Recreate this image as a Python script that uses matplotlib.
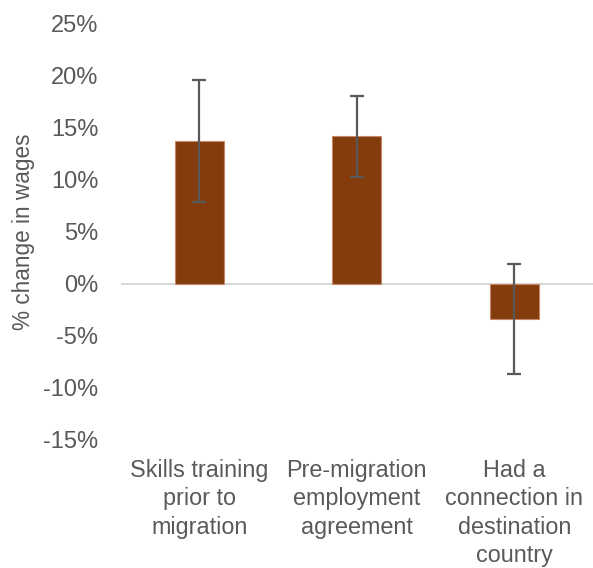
import matplotlib.pyplot as plt
import numpy as np

plt.rcParams['font.family'] = ['Liberation Sans', 'DejaVu Sans']

# data (percent)
categories = ["Skills training\nprior to\nmigration",
              "Pre-migration\nemployment\nagreement",
              "Had a\nconnection in\ndestination\ncountry"]
values = [13.7, 14.2, -3.4]
err_low = [7.9, 10.3, -8.7]
err_high = [19.6, 18.1, 1.85]
yticks = [-15, -10, -5, 0, 5, 10, 15, 20, 25]

grey = '#595959'

fig = plt.figure(figsize=(5.93, 5.68), dpi=100)
ax = fig.add_axes([0.2035, 0.226, 0.7965, 0.732])

x = np.arange(len(categories))
yerr = [np.array(values) - np.array(err_low), np.array(err_high) - np.array(values)]
ax.bar(x, values, width=0.31, color='#843C0C', edgecolor='#c4896a', linewidth=0.8, zorder=2)
ax.errorbar(x, values, yerr=yerr, fmt='none', ecolor=grey, elinewidth=1.6,
            capsize=5, capthick=1.6, zorder=3)
ax.axhline(0, color='#d9d9d9', linewidth=1.5, zorder=1)

ax.set_xlim(-0.5, 2.5)
ax.set_ylim(-15, 25)
ax.set_yticks(yticks)
ax.set_yticklabels([f"{t}%" for t in yticks], fontsize=17)
ax.set_xticks(x)
ax.set_xticklabels(categories, linespacing=1.3, fontsize=16.8)

for s in ax.spines.values():
    s.set_visible(False)
ax.tick_params(axis='both', length=0, colors=grey)
ax.tick_params(axis='y', pad=16)
ax.tick_params(axis='x', pad=14)
ax.set_ylabel("% change in wages", color=grey, fontsize=16.3, labelpad=6)

fig.savefig("out.png", dpi=100)
